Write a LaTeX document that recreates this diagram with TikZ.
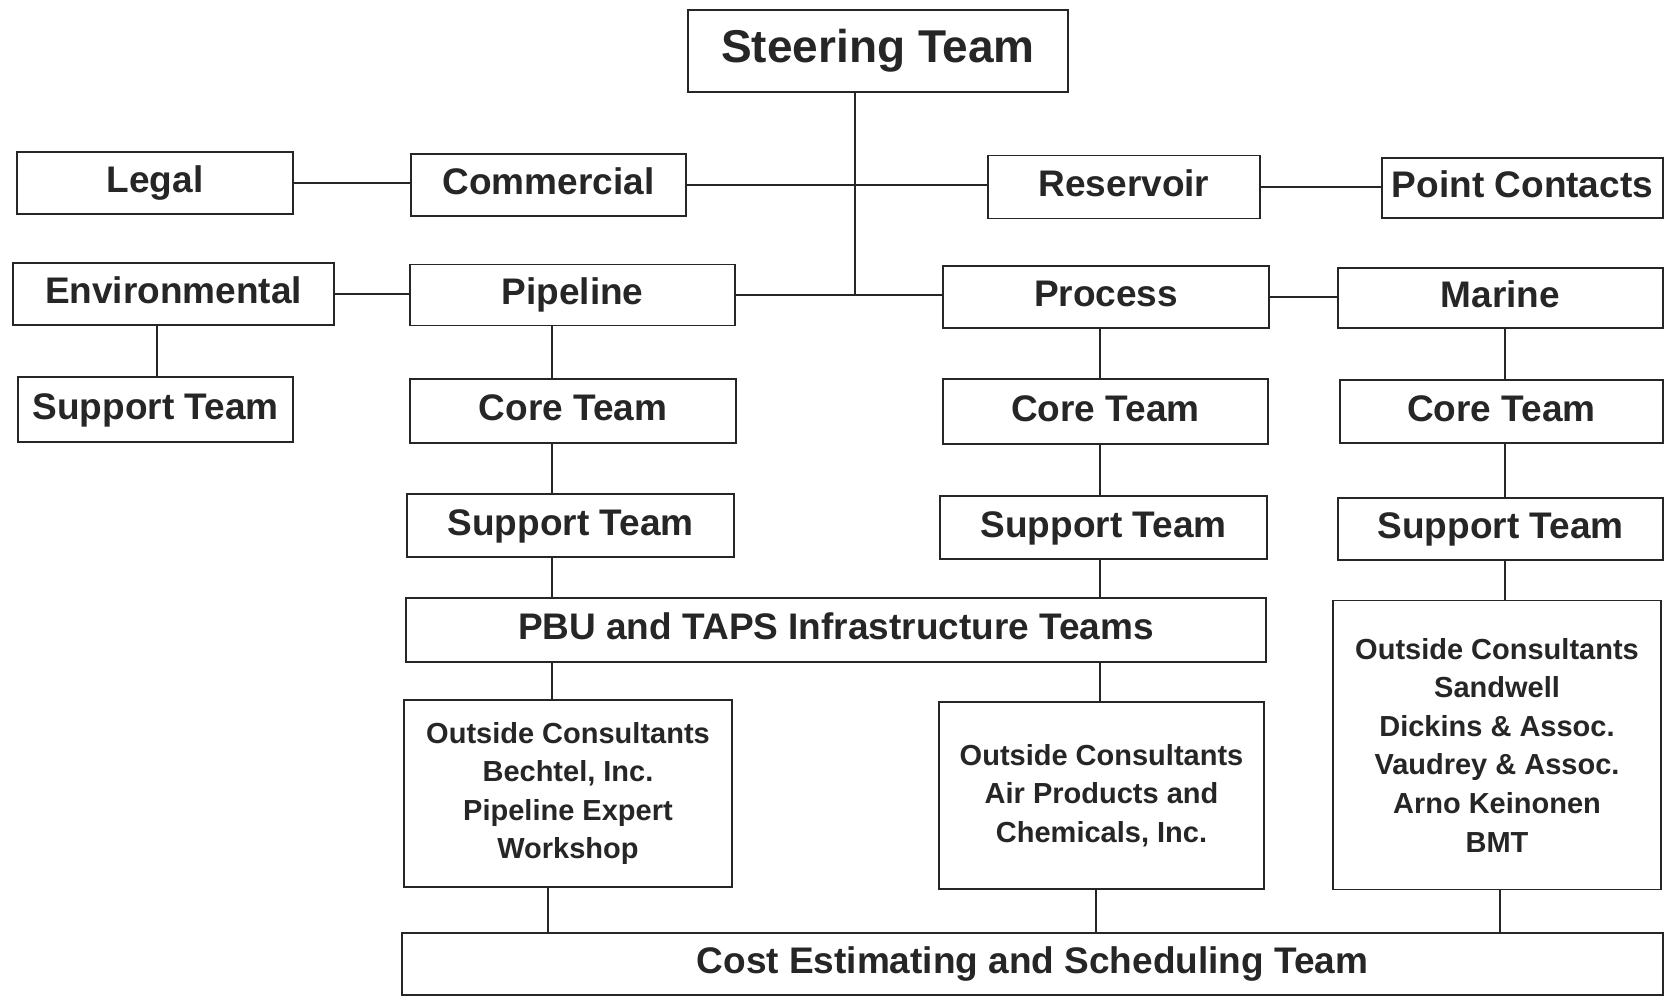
\documentclass[tikz,border=0pt]{standalone}
\usepackage{fontspec}
\setmainfont{Liberation Sans}

\begin{document}
\begin{tikzpicture}[
    x=1pt, y=-1pt,
    font=\bfseries\fontsize{37}{44}\selectfont,
    unit/.style={draw=black!85, line width=1.8pt, rectangle, inner sep=0pt, text=black!85, text height=27pt, text depth=8pt},
    crew/.style={draw=black!85, line width=1.8pt, rectangle, inner sep=0pt, align=center, text=black!85, font=\bfseries\fontsize{29}{38.6}\selectfont},
    link/.style={draw=black!85, line width=2pt}
]
\useasboundingbox[fill=white] (0,0) rectangle (1664,997);

% Top level
\node[unit, minimum width=380, minimum height=82, font=\bfseries\fontsize{46}{52}\selectfont, text height=33pt, text depth=10pt] (steer) at (878,51) {Steering Team};

% Second row
\node[unit, minimum width=276, minimum height=62] (legal) at (155,183) {Legal};
\node[unit, minimum width=275, minimum height=62] (commercial) at (548.5,185) {Commercial};
\node[unit, minimum width=272, minimum height=63] (reservoir) at (1124,187) {Reservoir};
\node[unit, minimum width=281, minimum height=60] (contacts) at (1522.5,188) {Point Contacts};

% Third row
\node[unit, minimum width=321, minimum height=62] (enviro) at (173.5,294) {Environmental};
\node[unit, minimum width=325, minimum height=61] (pipeline) at (572.5,295) {Pipeline};
\node[unit, minimum width=326, minimum height=62] (process) at (1106,297) {Process};
\node[unit, minimum width=325, minimum height=60] (marine) at (1500.5,298) {Marine};

% Core teams
\node[unit, minimum width=275, minimum height=65] (envsupport) at (155.5,409.5) {Support Team};
\node[unit, minimum width=326, minimum height=64] (pipecore) at (573,411) {Core Team};
\node[unit, minimum width=325, minimum height=65] (proccore) at (1105.5,411.5) {Core Team};
\node[unit, minimum width=323, minimum height=63] (marcore) at (1501.5,411.5) {Core Team};

% Support teams
\node[unit, minimum width=327, minimum height=63] (pipesupport) at (570.5,525.5) {Support Team};
\node[unit, minimum width=327, minimum height=63] (procsupport) at (1103.5,527.5) {Support Team};
\node[unit, minimum width=325, minimum height=62] (marsupport) at (1500.5,529) {Support Team};

% Infrastructure and consultants
\node[unit, minimum width=860, minimum height=64] (infra) at (836,630) {PBU and TAPS Infrastructure Teams};
\node[crew, minimum width=328, minimum height=187] (pipecons) at (568,793.5) {Outside Consultants\\Bechtel, Inc.\\Pipeline Expert\\Workshop};
\node[crew, minimum width=325, minimum height=187] (proccons) at (1101.5,795.5) {Outside Consultants\\Air Products and\\Chemicals, Inc.};
\node[crew, minimum width=328, minimum height=289] (marcons) at (1497,745) {Outside Consultants\\Sandwell\\Dickins \& Assoc.\\Vaudrey \& Assoc.\\Arno Keinonen\\BMT};

% Bottom
\node[unit, minimum width=1261, minimum height=62] (cost) at (1032.5,964) {Cost Estimating and Scheduling Team};

% Columns
\coordinate (spine) at (855,0);
\coordinate (envcol) at (157,0);
\coordinate (pipecol) at (552,0);
\coordinate (proccol) at (1100,0);
\coordinate (marcol) at (1505,0);
\coordinate (pipelow) at (548,0);
\coordinate (proclow) at (1096,0);
\coordinate (marlow) at (1500,0);

% Links
\draw[link] (steer.south -| spine) -- (pipeline.east -| spine);
\draw[link] (legal.east) -- (legal.east -| commercial.west);
\draw[link] (commercial.east) -- (commercial.east -| reservoir.west);
\draw[link] (reservoir.east) -- (reservoir.east -| contacts.west);
\draw[link] (enviro.east) -- (enviro.east -| pipeline.west);
\draw[link] (pipeline.east) -- (pipeline.east -| process.west);
\draw[link] (process.east) -- (process.east -| marine.west);
\draw[link] (enviro.south -| envcol) -- (envsupport.north -| envcol);

\draw[link] (pipeline.south -| pipecol) -- (pipecore.north -| pipecol);
\draw[link] (pipecore.south -| pipecol) -- (pipesupport.north -| pipecol);
\draw[link] (pipesupport.south -| pipecol) -- (infra.north -| pipecol);
\draw[link] (infra.south -| pipecol) -- (pipecons.north -| pipecol);
\draw[link] (pipecons.south -| pipelow) -- (cost.north -| pipelow);

\draw[link] (process.south -| proccol) -- (proccore.north -| proccol);
\draw[link] (proccore.south -| proccol) -- (procsupport.north -| proccol);
\draw[link] (procsupport.south -| proccol) -- (infra.north -| proccol);
\draw[link] (infra.south -| proccol) -- (proccons.north -| proccol);
\draw[link] (proccons.south -| proclow) -- (cost.north -| proclow);

\draw[link] (marine.south -| marcol) -- (marcore.north -| marcol);
\draw[link] (marcore.south -| marcol) -- (marsupport.north -| marcol);
\draw[link] (marsupport.south -| marcol) -- (marcons.north -| marcol);
\draw[link] (marcons.south -| marlow) -- (cost.north -| marlow);
\end{tikzpicture}
\end{document}
